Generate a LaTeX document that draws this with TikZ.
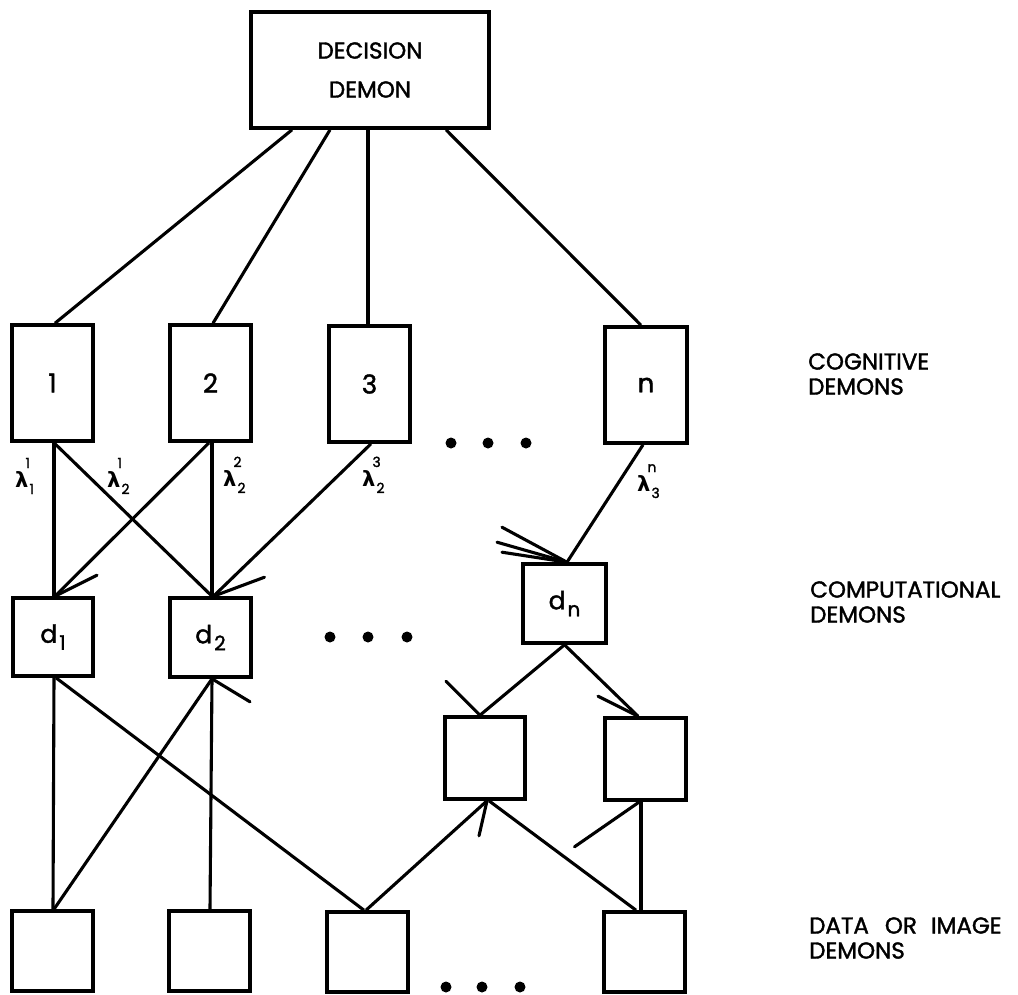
\documentclass[tikz,border=0pt]{standalone}
\usepackage{fontspec}
\setmainfont{Poppins}[FakeBold=1.6]
\newfontfamily\grk{DejaVu Sans}
\usetikzlibrary{calc}
\tikzset{
  box/.style={draw, line width=3.6pt, inner sep=0pt, rectangle},
  conn/.style={line width=3.1pt},
  barb/.style={line width=3.1pt, line cap=round},
  lbl/.style={font=\fontsize{23}{25}\selectfont, align=left, anchor=west, inner sep=0pt},
  num/.style={font=\fontsize{26}{26}\selectfont},
  dlab/.style={font=\fontsize{25}{25}\selectfont},
  lamlab/.style={anchor=base west, inner sep=0pt},
  dot/.style={fill=black}
}
\newcommand\lamsym[2]{{\grk\bfseries\fontsize{21}{21}\selectfont λ}\rlap{\kern-3pt\raisebox{19pt}{\fontsize{14}{14}\selectfont #1}}\raisebox{-7pt}{\kern1pt\fontsize{14}{14}\selectfont #2}}
\newcommand\dsub[1]{d\raisebox{-7pt}{\kern2pt\fontsize{20}{20}\selectfont #1}}
\begin{document}
\begin{tikzpicture}[x=1pt,y=-1pt]
\useasboundingbox (0,0) rectangle (1018,994);
% decision demon
\node[box, minimum width=238pt, minimum height=116pt, align=center,
      font=\fontsize{23}{39}\selectfont] (dec) at (370,70) {DECISION\\DEMON};
% cognitive demons
\node[box, num, minimum width=81pt, minimum height=116pt] (c1) at (52.5,383) {1};
\node[box, num, minimum width=81pt, minimum height=116pt] (c2) at (210.5,383) {2};
\node[box, num, minimum width=81pt, minimum height=116pt] (c3) at (369.5,384) {3};
\node[box, num, minimum width=82pt, minimum height=116pt] (cn) at (646,385) {n};
% computational demons
\node[box, dlab, minimum width=80pt, minimum height=78pt] (d1) at (53,637) {\dsub{1}};
\node[box, dlab, minimum width=81pt, minimum height=79pt] (d2) at (210.5,637.5) {\dsub{2}};
\node[box, dlab, minimum width=83pt, minimum height=79pt] (dn) at (564.5,603.5) {\dsub{n}};
\node[box, minimum width=80pt, minimum height=82pt] (l1) at (485,758) {};
\node[box, minimum width=81pt, minimum height=82pt] (l2) at (645.5,759) {};
% data demons
\node[box, minimum width=81pt, minimum height=80pt] (D1) at (52.5,951) {};
\node[box, minimum width=81pt, minimum height=80pt] (D2) at (209.5,951) {};
\node[box, minimum width=81pt, minimum height=80pt] (D3) at (367.5,952) {};
\node[box, minimum width=81pt, minimum height=80pt] (D4) at (644.5,952) {};
% side labels
\node[lbl] (labcog) at (808,374) {COGNITIVE\\DEMONS};
\node[lbl] (labcomp) at (810,602) {COMPUTATIONAL\\DEMONS};
\node[lbl] (labdata) at (809,938) {DATA\hspace{16pt}OR\hspace{14pt}IMAGE\\DEMONS};
% lambda labels
\node[lamlab] (la1) at (15,487) {\lamsym{1}{1}};
\node[lamlab] (la2) at (107,487) {\lamsym{1}{2}};
\node[lamlab] (la3) at (223,486) {\lamsym{2}{2}};
\node[lamlab] (la4) at (362,486) {\lamsym{3}{2}};
\node[lamlab] (la5) at (637,491) {\lamsym{n}{3}};
% decision -> cognitive
\draw[conn] ([xshift=-78pt]dec.south) -- ([xshift=2.5pt]c1.north);
\draw[conn] ([xshift=-40pt]dec.south) -- ([xshift=2.5pt]c2.north);
\draw[conn] ([xshift=-2pt]dec.south) -- ([xshift=-1.5pt]c3.north);
\draw[conn] ([xshift=76pt]dec.south) -- ([xshift=-5pt]cn.north);
% cognitive -> computational
\draw[conn] ([xshift=1.5pt]c1.south) -- ([xshift=1pt]d1.north);
\draw[conn] ([xshift=1.5pt]c1.south) -- ([xshift=1.5pt]d2.north);
\draw[conn] ([xshift=-1.5pt]c2.south) -- ([xshift=2pt]d1.north);
\draw[conn] ([xshift=1.5pt]c2.south) -- ([xshift=1.5pt]d2.north);
\draw[conn] ([xshift=1.5pt]c3.south) -- ([xshift=3pt]d2.north);
\draw[conn] ([xshift=-3pt]cn.south) -- ([xshift=2.5pt]dn.north);
% computational -> computational
\draw[conn] (dn.south) -- ([xshift=-5pt]l1.north);
\draw[conn] (dn.south) -- ([xshift=-7.5pt]l2.north);
% data <-> computational
\draw[conn] ([xshift=1pt]d1.south) -- ([xshift=0.5pt]D1.north);
\draw[conn] ([xshift=3pt]d1.south) -- ([xshift=-3.5pt]D3.north);
\draw[conn] ([xshift=1.5pt]d2.south) -- ([xshift=0.5pt]D2.north);
\draw[conn] ([xshift=1.5pt]D1.north) -- ([xshift=1.5pt]d2.south);
\draw[conn] ([xshift=-1.5pt]D3.north) -- ([xshift=2pt]l1.south);
\draw[conn] ([xshift=4pt]l1.south) -- ([xshift=-8.5pt]D4.north);
\draw[conn] ([xshift=-3.5pt]D4.north) -- ([xshift=-4.5pt]l2.south);
% arrow barbs
\draw[barb] ([xshift=2pt]d1.north) -- ++(42,-21);
\draw[barb] ([xshift=3pt]d2.north) -- ++(51,-19);
\draw[barb] ([xshift=2.5pt]dn.north) -- ++(-65,-35);
\draw[barb] ([xshift=2.5pt]dn.north) -- ++(-70,-20);
\draw[barb] ([xshift=2.5pt]dn.north) -- ++(-65,-10);
\draw[barb] ([xshift=-5pt]l1.north) -- ++(-34,-34);
\draw[barb] ([xshift=-7.5pt]l2.north) -- ++(-40,-20);
\draw[barb] ([xshift=1.5pt]d2.south) -- ++(38,23);
\draw[barb] ([xshift=2pt]l1.south) -- ++(-8,35);
\draw[barb] ([xshift=-6pt]l2.south) -- ++(-65,45);
% ellipsis dots
\foreach \x in {451,488,526} \fill[dot] (\x,443) circle (5.5pt);
\foreach \x in {330,368,407} \fill[dot] (\x,637) circle (5.5pt);
\foreach \x in {446,482,520} \fill[dot] (\x,987) circle (5.5pt);
\end{tikzpicture}
\end{document}
